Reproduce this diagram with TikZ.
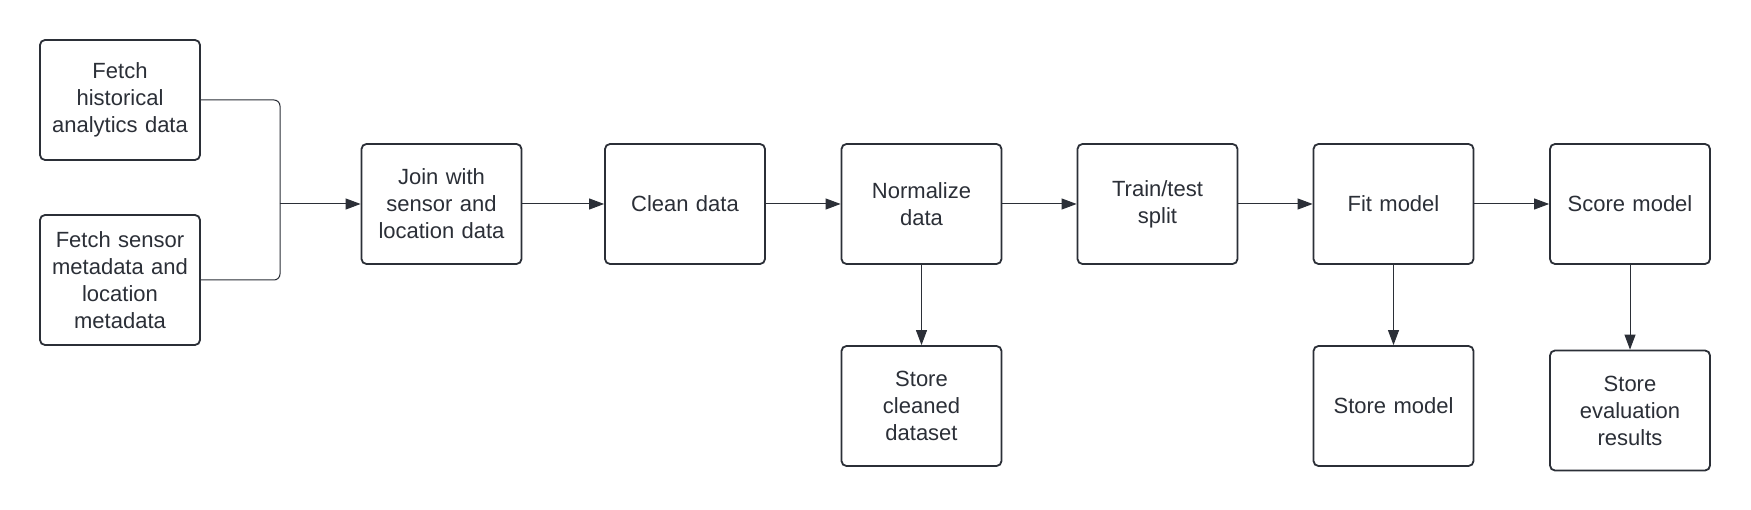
\documentclass[tikz,border=0pt]{standalone}
\usepackage{fontspec}
\setmainfont{Liberation Sans}
\usetikzlibrary{arrows.meta}
\definecolor{ink}{HTML}{2B2F37}
\begin{document}
\begin{tikzpicture}[x=1pt,y=1pt,
  box/.style={draw=ink, line width=1.8pt, rounded corners=5pt, fill=white,
    minimum width=160pt, minimum height=120pt, align=center, text=ink,
    font=\fontsize{22}{27}\selectfont, inner sep=0pt, text width=152pt},
  link/.style={draw=ink, line width=1pt},
  conn/.style={link, -{Triangle[length=15pt,width=11pt]}}]
\useasboundingbox[fill=white] (0,0) rectangle (1751,-510);
\node[box] (a) at (120,-100) {Fetch\\historical\\analytics data};
\node[box, minimum height=130pt] (b) at (120,-280) {Fetch sensor\\metadata and\\location\\metadata};
\node[box] (j) at (441.5,-204) {Join with\\sensor and\\location data};
\node[box] (c) at (685,-204) {Clean data};
\node[box] (n) at (921.5,-204) {Normalize\\data};
\node[box] (t) at (1157.5,-204) {Train/test\\split};
\node[box] (f) at (1393.5,-204) {Fit model};
\node[box] (s) at (1630,-204) {Score model};
\node[box] (sc) at (921.5,-406) {Store\\cleaned\\dataset};
\node[box] (sm) at (1393.5,-406) {Store model};
\node[box] (se) at (1630,-410.5) {Store\\evaluation\\results};
\coordinate (m) at (280,-204);
\draw[link, rounded corners=6pt] (a.east) -| (m);
\draw[link, rounded corners=6pt] (b.east) -| (m);
\draw[conn] (m) -- (j.west);
\draw[conn] (j) -- (c);
\draw[conn] (c) -- (n);
\draw[conn] (n) -- (t);
\draw[conn] (t) -- (f);
\draw[conn] (f) -- (s);
\draw[conn] (n) -- (sc);
\draw[conn] (f) -- (sm);
\draw[conn] (s) -- (se);
\end{tikzpicture}
\end{document}
